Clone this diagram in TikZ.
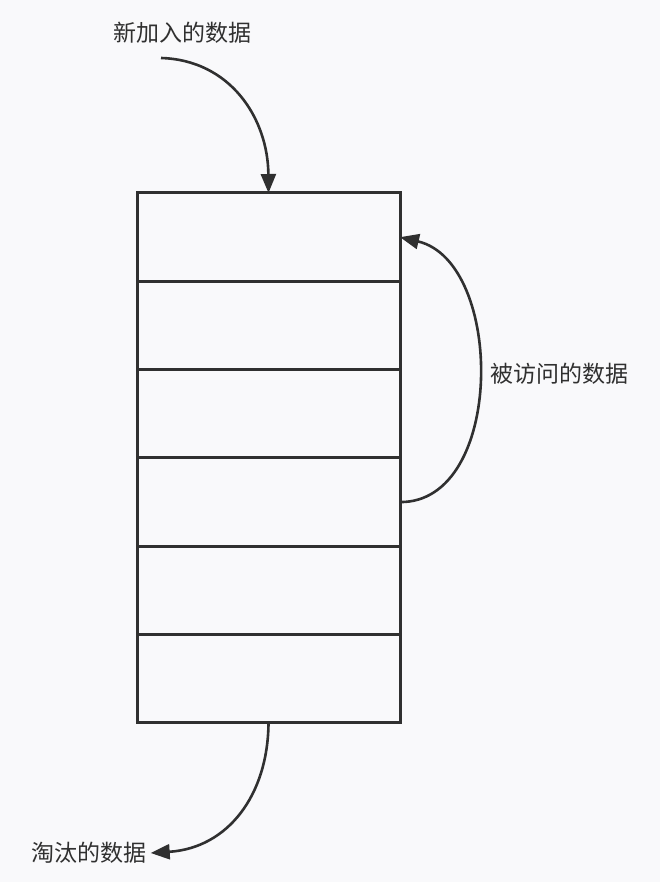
\documentclass[tikz,border=0pt]{standalone}
\usepackage{fontspec}
\newfontfamily\cjk{Noto Sans CJK SC}
\usetikzlibrary{arrows.meta}
\definecolor{ink}{HTML}{303030}
\definecolor{bg}{HTML}{F9F9FB}
\begin{document}
\begin{tikzpicture}[x=1pt,y=-1pt,
  cell/.style={draw=ink,line width=3pt,minimum width=263pt,minimum height=88.3pt,inner sep=0pt,outer sep=0pt,anchor=north west},
  lbl/.style={font=\cjk\fontsize{23}{26}\selectfont,text=ink,inner sep=0pt},
  arr/.style={draw=ink,line width=2.6pt,-{Triangle[length=19pt,width=15pt]}}]
\fill[bg] (0,0) rectangle (660,882);
\useasboundingbox (0,0) rectangle (660,882);
\node[cell] (r1) at (137,193) {};
\node[cell] (r2) at (137,281.3) {};
\node[cell] (r3) at (137,369.6) {};
\node[cell] (r4) at (137,457.9) {};
\node[cell] (r5) at (137,546.2) {};
\node[cell] (r6) at (137,634.5) {};
\node[lbl] (l1) at (182,33) {新加入的数据};
\node[lbl] (l2) at (559,374) {被访问的数据};
\node[lbl,inner xsep=4pt] (l3) at (89,853) {淘汰的数据};
\coordinate (s1) at (161,58);
\draw[arr] (s1) .. controls (230,60) and (268,118) .. (r1.north);
\draw[arr] (r4.east) .. controls (505,503) and (505,262) .. (r1.east);
\draw[arr] (r6.south) .. controls (268,795) and (228,848) .. (l3.east);
\end{tikzpicture}
\end{document}
